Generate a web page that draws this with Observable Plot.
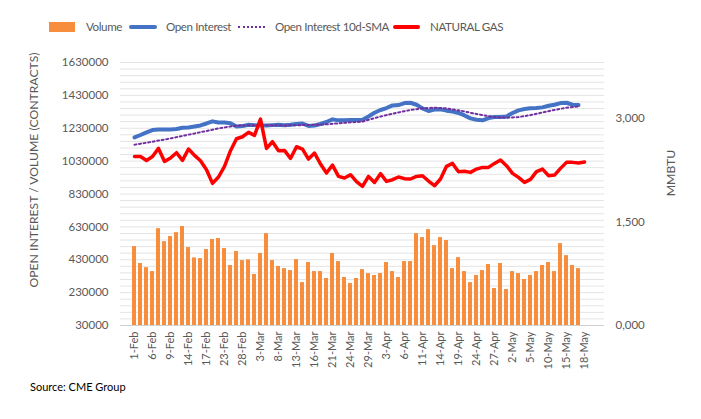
<!DOCTYPE html>
<html><head><meta charset="utf-8">
<script src="https://cdn.jsdelivr.net/npm/d3@7"></script>
<script src="https://cdn.jsdelivr.net/npm/@observablehq/plot@0.6"></script>
<style>
body{margin:0;background:#fff;font-family:Lato,"Open Sans",sans-serif;}
#wrap{position:relative;width:701px;height:419px;overflow:hidden;background:#fff;}
#chart{position:absolute;left:0;top:40px;}
.lt{position:absolute;top:19px;font-size:11.6px;letter-spacing:-0.4px;color:#595959;line-height:16px;white-space:nowrap;}
.sw{position:absolute;}
.title{position:absolute;white-space:nowrap;font-size:12.2px;color:#595959;transform:translate(-50%,-50%) rotate(-90deg);}
#source{position:absolute;left:30px;top:380px;font-size:11px;color:#000;}
</style></head><body>
<div id="wrap">
  <div class="sw" style="left:49px;top:22px;width:26px;height:10px;background:#F68E3E"></div>
  <div class="lt" style="left:86px">Volume</div>
  <div class="sw" style="left:129px;top:25px;width:28px;height:4px;border-radius:2px;background:#4472C4"></div>
  <div class="lt" style="left:166px">Open Interest</div>
  <div class="sw" style="left:238px;top:26px;width:27px;height:0;border-top:2px dotted #7030A0"></div>
  <div class="lt" style="left:275px">Open Interest 10d-SMA</div>
  <div class="sw" style="left:393px;top:25px;width:27px;height:4px;border-radius:2px;background:#FF0000"></div>
  <div class="lt" style="left:430px">NATURAL GAS</div>
  <div id="chart"></div>
  <div class="title" style="left:33px;top:170px">OPEN INTEREST / VOLUME (CONTRACTS)</div>
  <div class="title" style="left:670px;top:173px">MMBTU</div>
  <div id="source">Source: CME Group</div>
</div>
<script>
const dates = ["1-Feb","2-Feb","3-Feb","6-Feb","7-Feb","8-Feb","9-Feb","10-Feb","13-Feb","14-Feb","15-Feb","16-Feb","17-Feb","21-Feb","22-Feb","23-Feb","24-Feb","27-Feb","28-Feb",
"1-Mar","2-Mar","3-Mar","6-Mar","7-Mar","8-Mar","9-Mar","10-Mar","13-Mar","14-Mar","15-Mar","16-Mar","17-Mar","20-Mar","21-Mar","22-Mar","23-Mar","24-Mar","27-Mar","28-Mar","29-Mar","30-Mar","31-Mar",
"3-Apr","4-Apr","5-Apr","6-Apr","7-Apr","10-Apr","11-Apr","12-Apr","13-Apr","14-Apr","17-Apr","18-Apr","19-Apr","20-Apr","21-Apr","24-Apr","25-Apr","26-Apr","27-Apr","28-Apr",
"1-May","2-May","3-May","4-May","5-May","8-May","9-May","10-May","11-May","12-May","15-May","16-May","17-May","18-May","19-May"];

const tickDates = ["1-Feb","6-Feb","9-Feb","14-Feb","17-Feb","23-Feb","28-Feb","3-Mar","8-Mar","13-Mar","16-Mar","21-Mar","24-Mar","29-Mar","3-Apr","6-Apr","11-Apr","14-Apr","19-Apr","24-Apr","27-Apr","2-May","5-May","10-May","15-May","18-May"];

// Volume (contracts)
const volume = [510000,407000,382000,358000,619000,540000,571000,595000,632000,504000,441000,437000,492000,553000,559000,498000,395000,480000,425000,
429000,340000,468000,589000,425000,389000,376000,364000,431000,291000,413000,358000,358000,316000,468000,419000,322000,285000,316000,370000,346000,334000,346000,
413000,358000,322000,419000,419000,589000,565000,613000,516000,565000,547000,376000,443000,358000,291000,334000,364000,401000,255000,407000,
249000,358000,346000,310000,334000,358000,395000,413000,358000,528000,455000,395000,376000,null,null];

// Open Interest (contracts)
const openInterest = [1174000,1189000,1205000,1219000,1223000,1223000,1223000,1225000,1233000,1235000,1241000,1247000,1259000,1272000,1265000,1265000,1260000,1241000,1243000,
1251000,1249000,1247000,1247000,1249000,1251000,1248000,1251000,1256000,1259000,1244000,1247000,1256000,1268000,1284000,1278000,1278000,1280000,1280000,1282000,1302000,1324000,1341000,
1353000,1369000,1371000,1383000,1385000,1373000,1351000,1335000,1344000,1345000,1337000,1331000,1323000,1308000,1290000,1282000,1278000,1292000,1298000,1298000,
1302000,1323000,1339000,1347000,1351000,1353000,1357000,1367000,1373000,1383000,1385000,1373000,1371000,null,null];

// Open Interest 10d-SMA (contracts)
const oiSma = [1130000,1136000,1142000,1148000,1155000,1161000,1168000,1176000,1183000,1191000,1198000,1206000,1213000,1221000,1229000,1235000,1241000,1245000,1247000,
1248000,1248000,1248000,1248000,1248000,1248000,1247000,1248000,1248000,1249000,1250000,1251000,1252000,1254000,1257000,1260000,1263000,1266000,1268000,1270000,1281000,1292000,1301000,
1310000,1318000,1326000,1334000,1341000,1346000,1351000,1353000,1355000,1353000,1351000,1345000,1339000,1332000,1324000,1317000,1310000,1304000,1298000,1296000,
1294000,1296000,1298000,1304000,1310000,1318000,1326000,1334000,1341000,1348000,1355000,1359000,1363000,null,null];

// Natural gas price (USD/MMBTU)
const natGas = [2.448,2.448,2.390,2.448,2.564,2.376,2.425,2.502,2.390,2.555,2.463,2.386,2.256,2.058,2.150,2.304,2.531,2.704,2.733,
2.796,2.752,2.989,2.564,2.661,2.531,2.535,2.419,2.588,2.555,2.410,2.497,2.338,2.208,2.323,2.159,2.135,2.183,2.082,2.014,2.159,2.072,2.198,
2.087,2.111,2.150,2.126,2.121,2.159,2.169,2.092,2.024,2.121,2.304,2.347,2.227,2.232,2.217,2.265,2.289,2.289,2.347,2.396,
2.314,2.203,2.145,2.072,2.116,2.227,2.265,2.169,2.178,2.275,2.362,2.362,2.352,2.367,null];

const leftTicks = [30000,230000,430000,630000,830000,1030000,1230000,1430000,1630000];
const priceTicks = [0,1.5,3];

const Y_MIN = 30000, Y_MAX = 1630000, PRICE_MAX = 3.808;
const K = (Y_MAX - Y_MIN) / PRICE_MAX;
const toLeft = p => Y_MIN + p * K;

const rows = dates.map((d, i) => ({date: d, vol: volume[i], oi: openInterest[i], sma: oiSma[i], price: natGas[i]}));
const gridVals = d3.range(Y_MIN, Y_MAX + 1, 40000);
const commaDec = v => d3.format(".3f")(Math.round(((v - Y_MIN) / K) * 1000) / 1000).replace(".", ",");

const chart = Plot.plot({
  width: 701, height: 340,
  marginLeft: 120, marginRight: 97, marginTop: 22, marginBottom: 55,
  x: {type: "band", domain: dates, padding: 0.35},
  y: {domain: [Y_MIN, Y_MAX]},
  style: {fontFamily: "Lato, 'Open Sans', sans-serif", fontSize: "11px", color: "#595959", background: "transparent"},
  marks: [
    Plot.ruleY(gridVals, {stroke: "#e4e4e4", strokeWidth: 1}),
    Plot.barY(rows.filter(r => r.vol != null), {x: "date", y1: Y_MIN, y2: "vol", fill: "#F68E3E"}),
    Plot.ruleY([Y_MIN], {stroke: "#d0d0d0"}),
    Plot.line(rows.filter(r => r.oi != null), {x: "date", y: "oi", stroke: "#4472C4", strokeWidth: 4, strokeLinejoin: "round", strokeLinecap: "round"}),
    Plot.line(rows.filter(r => r.sma != null), {x: "date", y: "sma", stroke: "#7030A0", strokeWidth: 2, strokeDasharray: "2,2.6"}),
    Plot.line(rows.filter(r => r.price != null), {x: "date", y: r => toLeft(r.price), stroke: "#FF0000", strokeWidth: 3.5, strokeLinejoin: "round", strokeLinecap: "round"}),
    Plot.axisY(leftTicks, {anchor: "left", tickSize: 0, tickPadding: 12, label: null, tickFormat: d => String(d), fontSize: 11.5}),
    Plot.axisY(priceTicks.map(toLeft), {anchor: "right", tickSize: 0, tickPadding: 11, label: null, tickFormat: commaDec, fontSize: 11.5}),
    Plot.axisX(tickDates, {tickRotate: -90, tickSize: 0, tickPadding: 6, label: null, fontSize: 11})
  ]
});
document.getElementById("chart").appendChild(chart);
</script>
</body></html>
